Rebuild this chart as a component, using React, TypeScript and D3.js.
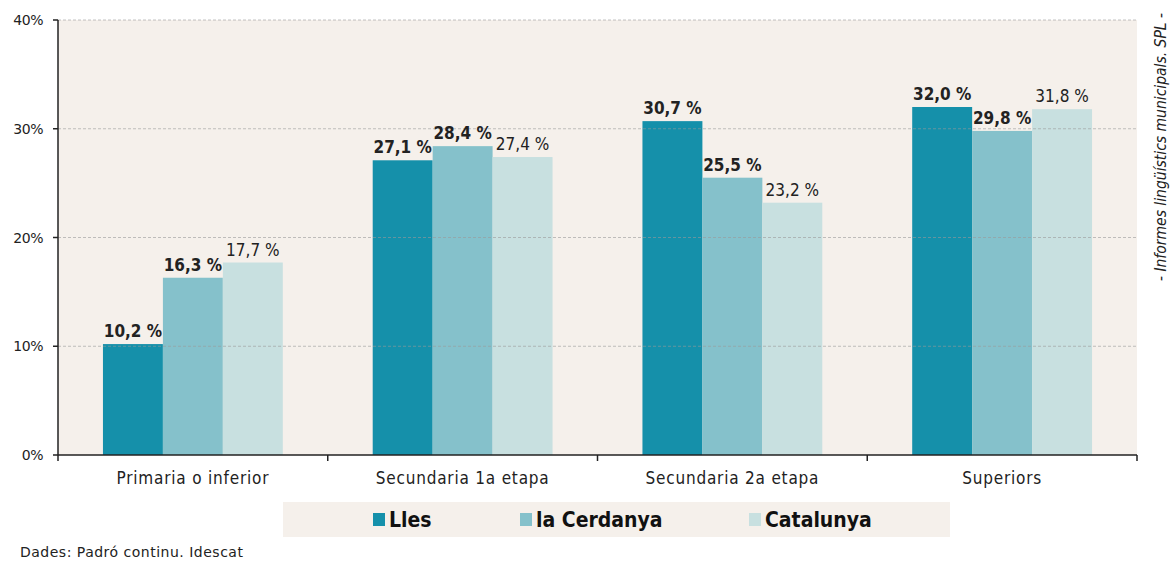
import React from "react";
import * as d3 from "d3";

const categories = ["Primaria o inferior", "Secundaria 1a etapa", "Secundaria 2a etapa", "Superiors"];
const seriesNames = ["Lles", "la Cerdanya", "Catalunya"];
const lles = [10.2, 27.1, 30.7, 32.0];
const cerdanya = [16.3, 28.4, 25.5, 29.8];
const catalunya = [17.7, 27.4, 23.2, 31.8];
const yTicks = [0, 10, 20, 30, 40];
const colors = ["#1590aa", "#85c1cb", "#c8e0e0"];

const W = 1173;
const H = 562;
const left = 58;
const right = 1137;
const top = 20;
const bottom = 455;
const cond = "'DejaVu Sans Condensed', 'DejaVu Sans', sans-serif";
const wide = "'DejaVu Sans', sans-serif";

export default function App() {
  const series = [lles, cerdanya, catalunya];
  const x = d3.scaleBand().domain(categories).range([left, right]);
  const inner = d3.scaleBand().domain(seriesNames).range([0, x.bandwidth()]).paddingOuter(0.75).paddingInner(0);
  const y = d3.scaleLinear().domain([0, 40]).range([bottom, top]);
  const fmt = (v: number) => v.toFixed(1).replace(".", ",") + " %";
  const legendX = [373, 520, 749];

  return (
    <svg width={W} height={H} style={{ position: "absolute", left: 0, top: 0, fontFamily: cond }}>
      <rect x={left} y={top} width={right - left} height={bottom - top} fill="#f5f0eb" />
      {series.map((vals, si) =>
        categories.map((c, ci) => (
          <rect
            key={`${si}-${ci}`}
            x={(x(c) as number) + (inner(seriesNames[si]) as number)}
            y={y(vals[ci])}
            width={inner.bandwidth()}
            height={bottom - y(vals[ci])}
            fill={colors[si]}
          />
        ))
      )}
      {yTicks.slice(1).map((t) => (
        <line key={t} x1={left} x2={right} y1={y(t)} y2={y(t)} stroke="#999" strokeOpacity={0.6} strokeDasharray="3,2" strokeWidth={1} />
      ))}
      {series.map((vals, si) =>
        categories.map((c, ci) => (
          <text
            key={`l${si}-${ci}`}
            x={(x(c) as number) + (inner(seriesNames[si]) as number) + inner.bandwidth() / 2}
            y={y(vals[ci]) - 7}
            textAnchor="middle"
            fontSize={17}
            fontWeight={si < 2 ? "bold" : "normal"}
            fill="#222"
          >
            {fmt(vals[ci])}
          </text>
        ))
      )}
      <line x1={left} x2={left} y1={top} y2={bottom} stroke="#222" strokeWidth={1.5} />
      <line x1={left} x2={right} y1={bottom} y2={bottom} stroke="#222" strokeWidth={1.5} />
      {yTicks.map((t) => (
        <g key={t}>
          <line x1={left - 5} x2={left} y1={y(t)} y2={y(t)} stroke="#222" strokeWidth={1.5} />
          <text x={left - 15} y={y(t) + 5} textAnchor="end" fontSize={14} fontFamily={wide} fill="#222" letterSpacing={-0.5}>
            {t}%
          </text>
        </g>
      ))}
      {categories.map((c) => (
        <g key={c}>
          <line x1={x(c) as number} x2={x(c) as number} y1={bottom} y2={bottom + 6} stroke="#222" strokeWidth={1.5} />
          <text x={(x(c) as number) + x.bandwidth() / 2} y={bottom + 29} textAnchor="middle" fontSize={17} letterSpacing={0.8} fill="#222">
            {c}
          </text>
        </g>
      ))}
      <line x1={right} x2={right} y1={bottom} y2={bottom + 6} stroke="#222" strokeWidth={1.5} />
      <rect x={283} y={502} width={667} height={35} fill="#f5f0eb" />
      {seriesNames.map((s, i) => (
        <g key={s}>
          <rect x={legendX[i]} y={513} width={12} height={13} fill={colors[i]} />
          <text x={legendX[i] + 16} y={527} fontSize={21} fontWeight="bold" fill="#111">
            {s}
          </text>
        </g>
      ))}
      <text x={20} y={557} fontSize={14} fontFamily={wide} letterSpacing={0.5} fill="#222">
        Dades: Padró continu. Idescat
      </text>
      <text
        transform={`translate(1166,147) rotate(-90)`}
        textAnchor="middle"
        fontSize={15.5}
        fontStyle="italic"
        fill="#222"
      >
        - Informes lingüístics municipals. SPL -
      </text>
    </svg>
  );
}
